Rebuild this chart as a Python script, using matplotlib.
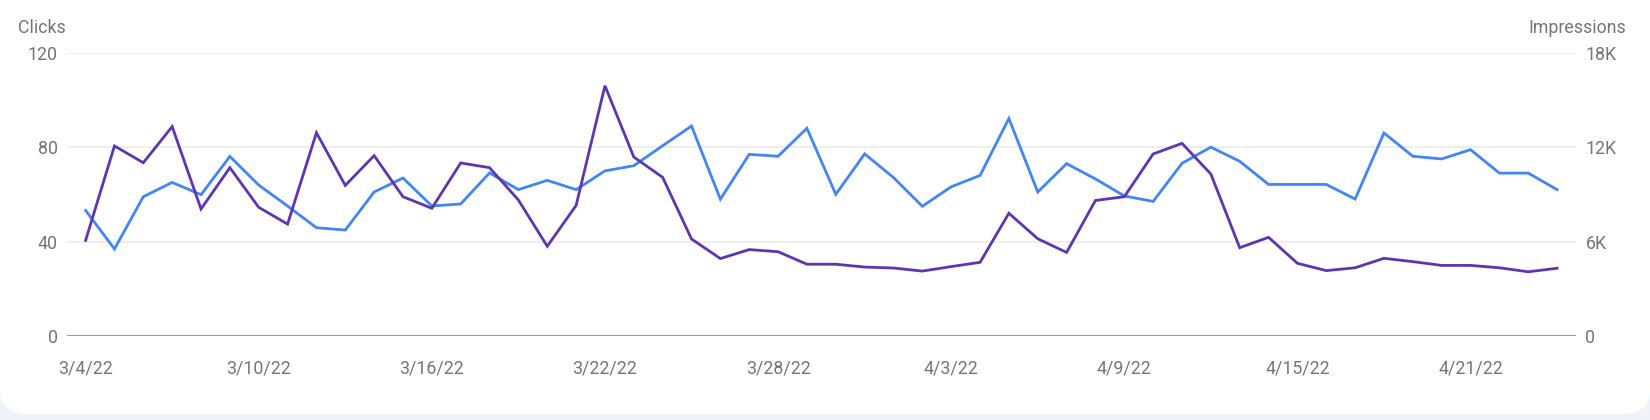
import numpy as np
import matplotlib.pyplot as plt
from matplotlib.patches import FancyBboxPatch

plt.rcParams['font.family'] = ['Roboto', 'DejaVu Sans']

# daily values, 3/4/22 .. 4/24/22
clicks = [40.5, 80.5, 73.4, 88.7, 53.8, 71.3, 54.5, 47.4, 86.1, 63.8,
          76.4, 59.0, 54.1, 73.3, 71.3, 57.6, 38.0, 55.3, 106.0, 75.8,
          67.2, 41.1, 32.8, 36.6, 35.7, 30.4, 30.4, 29.2, 28.8, 27.5,
          29.4, 31.2, 52.0, 41.2, 35.4, 57.4, 59.0, 77.1, 81.6, 68.6,
          37.4, 41.8, 30.8, 27.7, 28.9, 32.9, 31.5, 29.9, 29.9, 28.9,
          27.2, 28.7]
impressions = [7980, 5530, 8850, 9760, 8980, 11410, 9590, 8260, 6880, 6730,
               9150, 10040, 8260, 8390, 10360, 9300, 9890, 9300, 10490, 10820,
               12090, 13340, 8690, 11540, 11420, 13200, 9000, 11570, 10070, 8240,
               9480, 10200, 13820, 9150, 10950, 9980, 8900, 8550, 10970, 12000,
               11100, 9630, 9630, 9630, 8700, 12900, 11420, 11250, 11840, 10350,
               10350, 9300]
tick_days = [0, 6, 12, 18, 24, 30, 36, 42, 48]
tick_labels = ['3/4/22', '3/10/22', '3/16/22', '3/22/22', '3/28/22',
               '4/3/22', '4/9/22', '4/15/22', '4/21/22']

purple = '#5e35b1'
blue = '#4285f4'
text_gray = '#757575'

W, H = 1650, 420
fig = plt.figure(figsize=(W / 100, H / 100), dpi=100)
fig.patch.set_facecolor('#f0f4f9')

# white card with rounded bottom corners (top corners pushed off-canvas)
card = FancyBboxPatch((0, H - 414), W, 500, boxstyle='round,pad=0,rounding_size=26',
                      transform=None, facecolor='white', edgecolor='none', zorder=-5)
fig.patches.append(card)

x = np.arange(len(clicks))

ax = fig.add_axes([67 / W, 1 - 336 / H, (1575.7 - 67) / W, (336 - 52.7) / H])
ax2 = ax.twinx()
ax.set_zorder(ax2.get_zorder() + 1)
ax.patch.set_visible(False)
ax2.patch.set_visible(False)

ax2.plot(x, impressions, color=blue, lw=2.0, solid_joinstyle='miter')
ax.plot(x, clicks, color=purple, lw=2.0, solid_joinstyle='miter')

ax.set_xlim(-0.645, len(clicks) - 1 + 0.645)
ax.set_ylim(0, 120)
ax2.set_ylim(0, 18000)
ax.set_yticks([0, 40, 80, 120])
ax2.set_yticks([0, 6000, 12000, 18000], labels=['0', '6K', '12K', '18K'])
ax.set_xticks(tick_days, labels=tick_labels)

for a in (ax, ax2):
    for s in a.spines.values():
        s.set_visible(False)
    a.tick_params(length=0, labelsize=12.8, labelcolor=text_gray)
ax.tick_params(axis='y', pad=6.5)
ax2.tick_params(axis='y', pad=7)
ax.tick_params(axis='x', pad=17)

for v in [40, 80, 120]:
    ax2.axhline(v * 150, color='#ebebeb', lw=1.2, zorder=0)
ax.axhline(0, color='#9e9e9e', lw=1.6, zorder=1)

fig.text(18 / W, 1 - 28 / H, 'Clicks', fontsize=12.8, color=text_gray,
         ha='left', va='center')
fig.text(1625.7 / W, 1 - 28 / H, 'Impressions', fontsize=12.8, color=text_gray,
         ha='right', va='center')

fig.savefig('out.png', dpi=100, facecolor=fig.get_facecolor())
